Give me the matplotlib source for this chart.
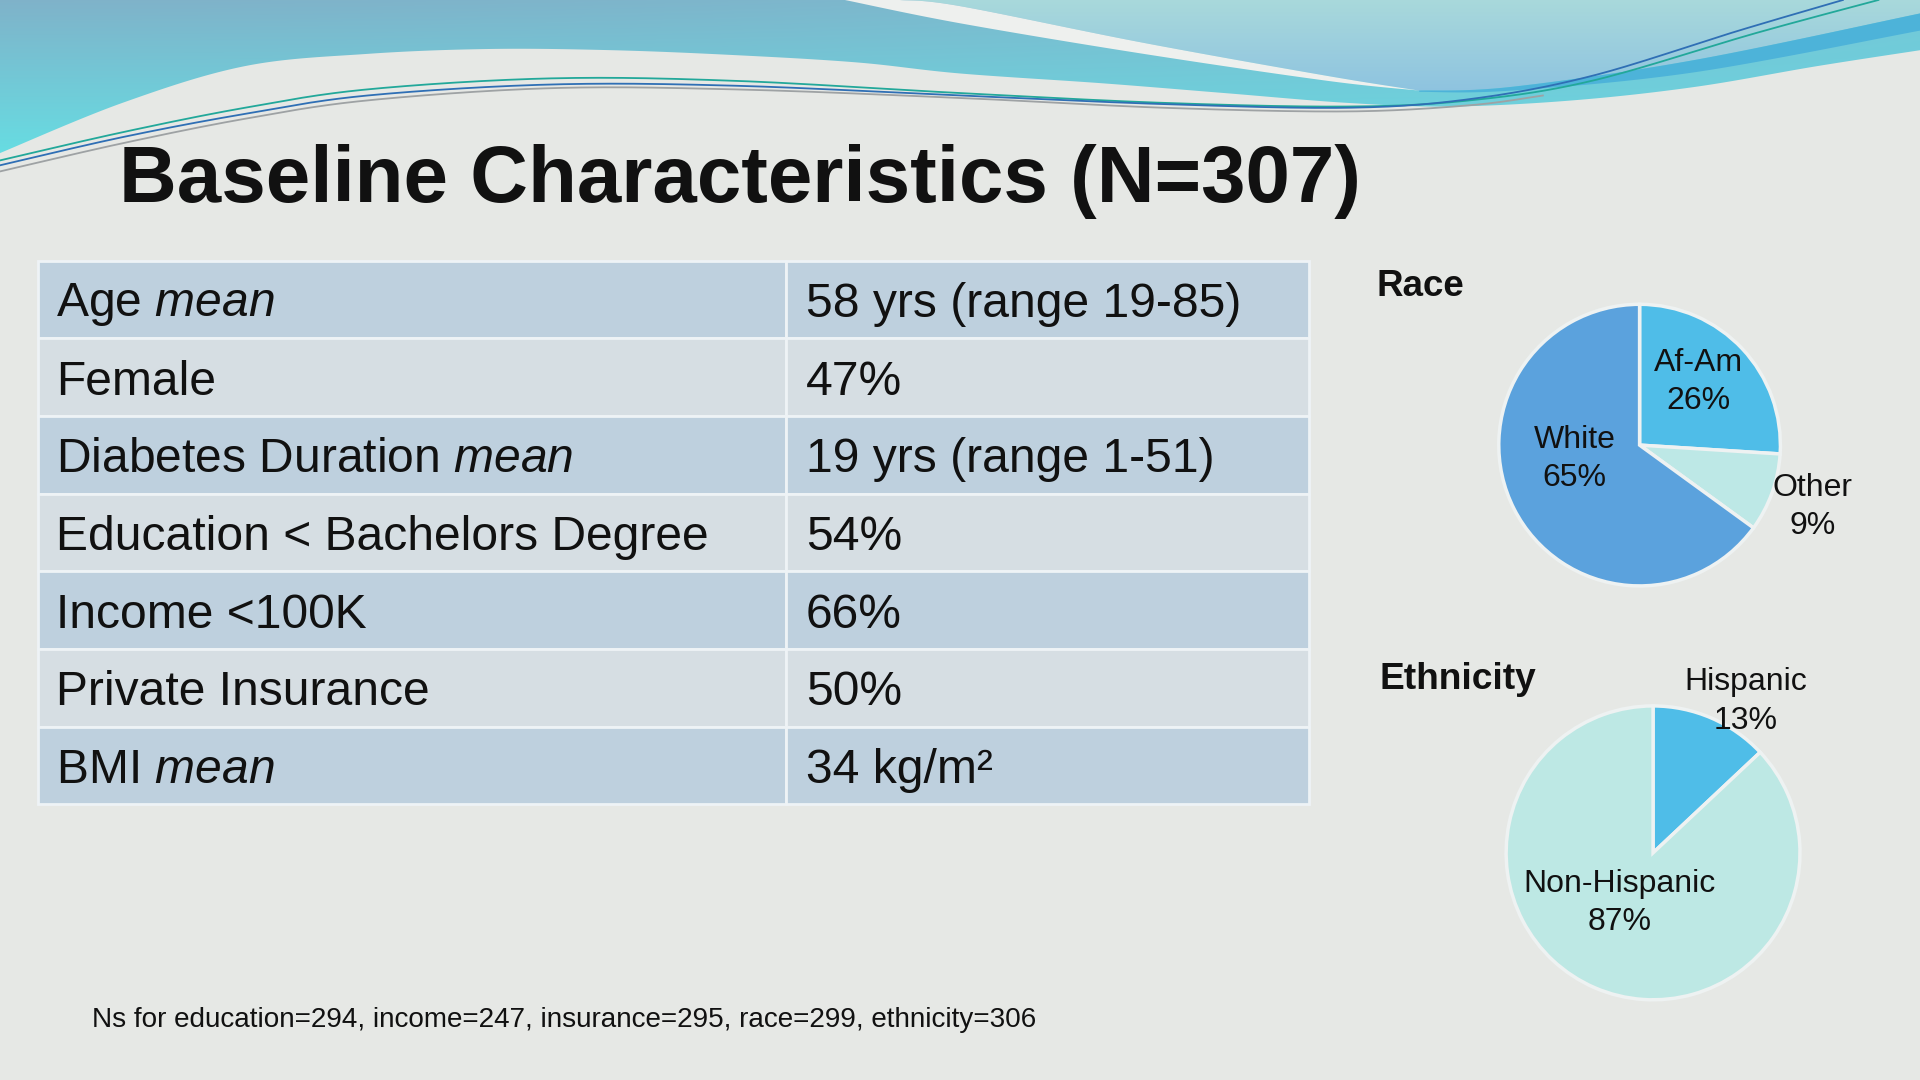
import numpy as np
import matplotlib.pyplot as plt
from matplotlib.patches import Polygon, Rectangle

plt.rcParams['font.family'] = 'Liberation Sans'
plt.rcParams['mathtext.fontset'] = 'custom'
plt.rcParams['mathtext.rm'] = 'Liberation Sans'
plt.rcParams['mathtext.it'] = 'Liberation Sans:italic'

# Daten
title = "Baseline Characteristics (N=307)"
row_labels = ["Age $\\mathit{mean}$", "Female", "Diabetes Duration $\\mathit{mean}$",
              "Education < Bachelors Degree", "Income <100K", "Private Insurance",
              "BMI $\\mathit{mean}$"]
row_values = ["58 yrs (range 19-85)", "47%", "19 yrs (range 1-51)", "54%", "66%",
              "50%", "34 kg/m\u00b2"]

race_labels = ["Af-Am", "Other", "White"]
race_pct = [26, 9, 65]
race_colors = ["#4FBDE8", "#BDE8E6", "#5BA2DD"]

eth_labels = ["Hispanic", "Non-Hispanic"]
eth_pct = [13, 87]
eth_colors = ["#4FBDE8", "#BDE8E4"]

footnote = "Ns for education=294, income=247, insurance=295, race=299, ethnicity=306"

W, H = 1568, 882


def smooth(pts, n=30):
    p = np.array(pts, float)
    p = np.vstack([p[0], p, p[-1]])
    out = []
    t = np.linspace(0, 1, n, endpoint=False)[:, None]
    for i in range(1, len(p) - 2):
        p0, p1, p2, p3 = p[i - 1], p[i], p[i + 1], p[i + 2]
        out.append(0.5 * (2 * p1 + (-p0 + p2) * t + (2 * p0 - 5 * p1 + 4 * p2 - p3) * t ** 2
                          + (-p0 + 3 * p1 - 3 * p2 + p3) * t ** 3))
    out.append(p[-2][None])
    return np.vstack(out)


def gradient_fill(ax, poly, extent, ctop, cbot, cright=None, z=1):
    ax.add_patch(poly)
    gy, gx = np.mgrid[0:1:80j, 0:1:240j]
    ctop, cbot = np.array(ctop), np.array(cbot)
    img = ctop * (1 - gy[..., None]) + cbot * gy[..., None]
    if cright is not None:
        w = (gx ** 2)[..., None] * 0.7
        img = img * (1 - w) + np.array(cright) * w
    im = ax.imshow(img, extent=extent, aspect="auto", zorder=z)
    im.set_clip_path(poly)


fig = plt.figure(figsize=(19.2, 10.8), dpi=100)
fig.patch.set_facecolor("#E6E8E5")
bg = fig.add_axes([0, 0, 1, 1])
bg.axis("off")

# Deko-Welle oben
edge = smooth([(0, 125), (100, 84), (200, 54), (300, 44), (400, 40), (500, 41), (600, 45),
               (700, 51), (784, 60), (900, 68), (1000, 76), (1100, 84), (1184, 87),
               (1284, 82), (1384, 71), (1484, 54), (1568, 41)])
teal = Polygon(np.vstack([[[0, 0]], edge, [[W, 0]]]), closed=True, facecolor="none", edgecolor="none")
gradient_fill(bg, teal, (0, W, 130, 0), (0.50, 0.70, 0.79), (0.40, 0.87, 0.89),
              cright=(0.43, 0.82, 0.87))

sw_top = smooth([(735, 0), (784, 5), (934, 35), (1084, 62), (1159, 74)])
band_top = smooth([(1159, 74), (1234, 71), (1384, 49), (1568, 11)])
upper = Polygon(np.vstack([sw_top, band_top[1:], [[W, 0]]]), closed=True,
                facecolor="none", edgecolor="none")
gradient_fill(bg, upper, (700, W, 80, 0), (0.66, 0.85, 0.86), (0.55, 0.76, 0.88), z=2)

sw_bot = smooth([(1159, 74), (1084, 66), (934, 44), (784, 19), (690, 0)])
bg.add_patch(Polygon(np.vstack([sw_top, sw_bot]), closed=True, facecolor="#EEF0EE",
                     edgecolor="none", zorder=2))
band_bot = smooth([(1568, 25), (1384, 59), (1234, 74), (1159, 75)])
bg.add_patch(Polygon(np.vstack([band_top, band_bot]), closed=True, facecolor="#4DB3D9",
                     edgecolor="none", zorder=2))

lines = [
    ("#22A89A", [(0, 131), (100, 108), (200, 88), (300, 73), (450, 64), (600, 66), (784, 76),
                 (950, 84), (1100, 87), (1200, 82), (1300, 66), (1434, 27), (1534, 0)]),
    ("#2F6FB5", [(0, 135), (100, 112), (200, 93), (300, 78), (450, 69), (600, 70), (784, 78),
                 (950, 85), (1100, 88), (1200, 81), (1300, 62), (1420, 25), (1505, 0)]),
    ("#9EA2A4", [(0, 140), (100, 117), (200, 97), (300, 82), (450, 72), (600, 73), (784, 80),
                 (950, 88), (1100, 91), (1200, 86), (1260, 78)]),
]
for col, pts in lines:
    ln = smooth(pts)
    bg.plot(ln[:, 0], ln[:, 1], color=col, lw=1.3, zorder=3)

# Titel
bg.text(97, 165, title, fontsize=57.5, fontweight="bold", color="#111111", va="baseline", zorder=5)

# Tabelle
x0, xs, x1 = 31, 642, 1069
y0, rh = 213, (657 - 213) / 7
for i, (lab, val) in enumerate(zip(row_labels, row_values)):
    fc = "#BED0DE" if i % 2 == 0 else "#D6DEE3"
    yt = y0 + i * rh
    bg.add_patch(Rectangle((x0, yt), xs - x0, rh, facecolor=fc, edgecolor="#EEF3F6", lw=2, zorder=4))
    bg.add_patch(Rectangle((xs, yt), x1 - xs, rh, facecolor=fc, edgecolor="#EEF3F6", lw=2, zorder=4))
    bg.text(46, yt + rh / 2 + 4, lab, fontsize=34.6, color="#111111", va="center", zorder=5)
    bg.text(658, yt + rh / 2 + 4, val, fontsize=34.6, color="#111111", va="center", zorder=5)

bg.text(1124, 242, "Race", fontsize=26.5, fontweight="bold", color="#111111", va="baseline")
bg.text(1127, 563, "Ethnicity", fontsize=26.7, fontweight="bold", color="#111111", va="baseline")
bg.text(75, 839, footnote, fontsize=20.1, color="#111111", va="baseline")

bg.set_xlim(0, W)
bg.set_ylim(H, 0)


def pie_axes(cx, cy, r):
    return fig.add_axes([(cx - r) / W, 1 - (cy + r) / H, 2 * r / W, 2 * r / H])


# Race-Kreis
ax1 = pie_axes(1339, 363.5, 115)
ax1.pie(race_pct, colors=race_colors, startangle=90, counterclock=False,
        wedgeprops=dict(edgecolor="#EEF2F2", linewidth=2.5))
race_pos = [(0.42, 0.45), (1.23, -0.44), (-0.46, -0.10)]
for lab, p, (tx, ty) in zip(race_labels, race_pct, race_pos):
    ax1.text(tx, ty, f"{lab}\n{p}%", fontsize=23, ha="center", va="center",
             color="#111111", linespacing=1.35)
ax1.set_xlim(-1, 1)
ax1.set_ylim(-1, 1)

# Ethnicity-Kreis
ax2 = pie_axes(1350, 696.5, 120)
ax2.pie(eth_pct, colors=eth_colors, startangle=90, counterclock=False,
        wedgeprops=dict(edgecolor="#EEF2F2", linewidth=2.5))
eth_pos = [(0.63, 1.03), (-0.23, -0.34)]
for lab, p, (tx, ty) in zip(eth_labels, eth_pct, eth_pos):
    ax2.text(tx, ty, f"{lab}\n{p}%", fontsize=23, ha="center", va="center",
             color="#111111", linespacing=1.35)
ax2.set_xlim(-1, 1)
ax2.set_ylim(-1, 1)

fig.savefig("out.png", dpi=100, facecolor=fig.get_facecolor())
